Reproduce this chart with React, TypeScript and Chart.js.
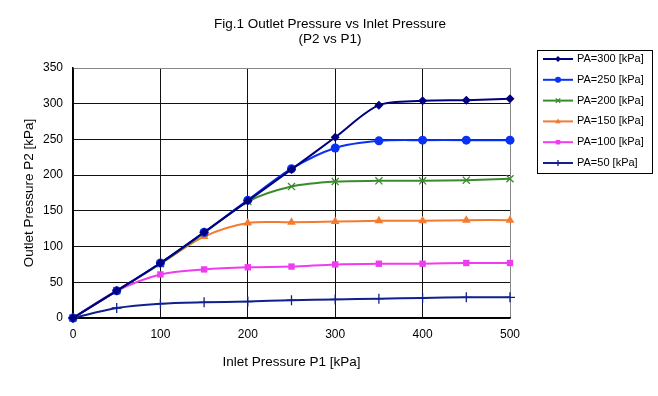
import React, { useEffect, useRef } from "react";
import { Chart, registerables } from "chart.js";

Chart.register(...registerables);

const inletP1 = [0, 50, 100, 150, 200, 250, 300, 350, 400, 450, 500];
const pa300 = [0, 38, 77, 120, 164, 208, 253, 298, 304, 305, 307];
const pa250 = [0, 38, 77, 120, 165, 209, 238, 248, 249, 249, 249];
const pa200 = [0, 38, 76, 119, 163, 184, 191, 192, 192, 193, 195];
const pa150 = [0, 38, 76, 114, 133, 134, 135, 136, 136, 137, 137];
const pa100 = [0, 38, 61, 68, 71, 72, 75, 76, 76, 77, 77];
const pa50 = [0, 14, 20, 22, 23, 25, 26, 27, 28, 29, 29];

const seriesLabels = ["PA=300 [kPa]", "PA=250 [kPa]", "PA=200 [kPa]", "PA=150 [kPa]", "PA=100 [kPa]", "PA=50 [kPa]"];
const titleLines = ["Fig.1 Outlet Pressure vs Inlet Pressure", "(P2 vs P1)"];
const xTitle = "Inlet Pressure P1 [kPa]";
const yTitle = "Outlet Pressure P2 [kPa]";

const FONT = "'Liberation Sans', Arial, sans-serif";

function drawMarker(ctx: CanvasRenderingContext2D, style: string, x: number, y: number, r: number, color: string) {
  ctx.save();
  ctx.fillStyle = color;
  ctx.strokeStyle = color;
  ctx.lineWidth = 1.3;
  ctx.beginPath();
  switch (style) {
    case "rectRot":
      ctx.moveTo(x, y - r);
      ctx.lineTo(x + r, y);
      ctx.lineTo(x, y + r);
      ctx.lineTo(x - r, y);
      ctx.closePath();
      ctx.fill();
      break;
    case "circle":
      ctx.arc(x, y, r, 0, Math.PI * 2);
      ctx.fill();
      break;
    case "crossRot":
      ctx.moveTo(x - r * 0.75, y - r * 0.75);
      ctx.lineTo(x + r * 0.75, y + r * 0.75);
      ctx.moveTo(x + r * 0.75, y - r * 0.75);
      ctx.lineTo(x - r * 0.75, y + r * 0.75);
      ctx.stroke();
      break;
    case "triangle":
      ctx.moveTo(x, y - r);
      ctx.lineTo(x + r * 0.9, y + r * 0.6);
      ctx.lineTo(x - r * 0.9, y + r * 0.6);
      ctx.closePath();
      ctx.fill();
      break;
    case "rect":
      ctx.rect(x - r * 0.75, y - r * 0.75, r * 1.5, r * 1.5);
      ctx.fill();
      break;
    case "cross":
      ctx.moveTo(x, y - r);
      ctx.lineTo(x, y + r);
      ctx.moveTo(x - r, y);
      ctx.lineTo(x + r, y);
      ctx.stroke();
      break;
  }
  ctx.restore();
}

const customPlugin = {
  id: "customDecor",
  afterDraw(chart: any) {
    const ctx: CanvasRenderingContext2D = chart.ctx;
    ctx.save();
    // Title
    ctx.fillStyle = "#000";
    ctx.font = `13.5px ${FONT}`;
    ctx.textAlign = "center";
    ctx.textBaseline = "middle";
    ctx.fillText(titleLines[0], 330, 24);
    ctx.fillText(titleLines[1], 330, 39);

    // Legend box
    const bx = 537, by = 50, bw = 115, bh = 123;
    ctx.fillStyle = "#fff";
    ctx.fillRect(bx, by, bw, bh);
    ctx.strokeStyle = "#000";
    ctx.lineWidth = 1;
    ctx.strokeRect(bx + 0.5, by + 0.5, bw, bh);
    ctx.font = `11px ${FONT}`;
    ctx.textAlign = "left";
    ctx.textBaseline = "middle";
    chart.data.datasets.forEach((ds: any, i: number) => {
      const y = 59 + i * 20.8;
      ctx.strokeStyle = ds.borderColor;
      ctx.lineWidth = 2;
      ctx.beginPath();
      ctx.moveTo(543, y);
      ctx.lineTo(573, y);
      ctx.stroke();
      drawMarker(ctx, ds.pointStyle, 558, y, 3, ds.borderColor);
      ctx.fillStyle = "#000";
      ctx.fillText(ds.label, 577, y);
    });
    ctx.restore();
  },
};

export default function App() {
  const ref = useRef<HTMLCanvasElement | null>(null);

  useEffect(() => {
    document.body.style.margin = "0";
    const canvas = ref.current;
    if (!canvas) return;

    const mk = (label: string, data: number[], color: string, pointStyle: string, radius: number) => ({
      label,
      data: inletP1.map((x, i) => ({ x, y: data[i] })),
      borderColor: color,
      backgroundColor: color,
      pointBackgroundColor: pointStyle === "crossRot" || pointStyle === "cross" ? "rgba(0,0,0,0)" : color,
      pointBorderColor: color,
      pointBorderWidth: pointStyle === "crossRot" || pointStyle === "cross" ? 1.3 : 0,
      borderWidth: 2,
      pointStyle,
      pointRadius: radius,
      tension: 0.3,
      clip: false as any,
      fill: false,
    });

    const chart = new Chart(canvas, {
      type: "line",
      data: {
        datasets: [
          mk(seriesLabels[0], pa300, "#000080", "rectRot", 4.5),
          mk(seriesLabels[1], pa250, "#0A32F5", "circle", 4.5),
          mk(seriesLabels[2], pa200, "#3A8A2E", "crossRot", 5),
          mk(seriesLabels[3], pa150, "#F47A30", "triangle", 5),
          mk(seriesLabels[4], pa100, "#F03CF0", "rect", 4.5),
          mk(seriesLabels[5], pa50, "#10208C", "cross", 5),
        ] as any,
      },
      options: {
        animation: false,
        responsive: false,
        maintainAspectRatio: false,
        layout: { padding: { left: 0, top: 68, right: 148, bottom: 0 } },
        plugins: {
          legend: { display: false },
          title: { display: false },
          tooltip: { enabled: false },
        },
        scales: {
          x: {
            type: "linear",
            min: 0,
            max: 500,
            afterFit: (s: any) => {
              s.height = 78;
            },
            ticks: {
              stepSize: 100,
              padding: 9,
              color: "#000",
              font: { family: FONT, size: 12 },
            },
            grid: {
              drawTicks: false,
              color: (c: any) => (c.tick && c.tick.value === 500 ? "#888" : "#111"),
              lineWidth: 1,
            },
            border: { color: "#000", width: 1.5 },
            title: {
              display: true,
              text: xTitle,
              color: "#000",
              font: { family: FONT, size: 13.5 },
              padding: { top: 0, bottom: 26 },
            },
          },
          y: {
            type: "linear",
            min: 0,
            max: 350,
            afterFit: (s: any) => {
              s.width = 73;
            },
            ticks: {
              stepSize: 50,
              padding: 10,
              color: "#000",
              font: { family: FONT, size: 12 },
            },
            grid: {
              drawTicks: false,
              color: (c: any) => (c.tick && c.tick.value === 350 ? "#888" : "#111"),
              lineWidth: 1,
            },
            border: { color: "#000", width: 1.5 },
            title: {
              display: true,
              text: yTitle,
              color: "#000",
              font: { family: FONT, size: 13.5 },
              padding: { top: 21, bottom: 0 },
            },
          },
        },
      },
      plugins: [customPlugin],
    });

    return () => chart.destroy();
  }, []);

  return (
    <div style={{ width: 658, height: 396, background: "#fff" }}>
      <canvas ref={ref} width={658} height={396} style={{ display: "block", width: 658, height: 396 }} />
    </div>
  );
}
